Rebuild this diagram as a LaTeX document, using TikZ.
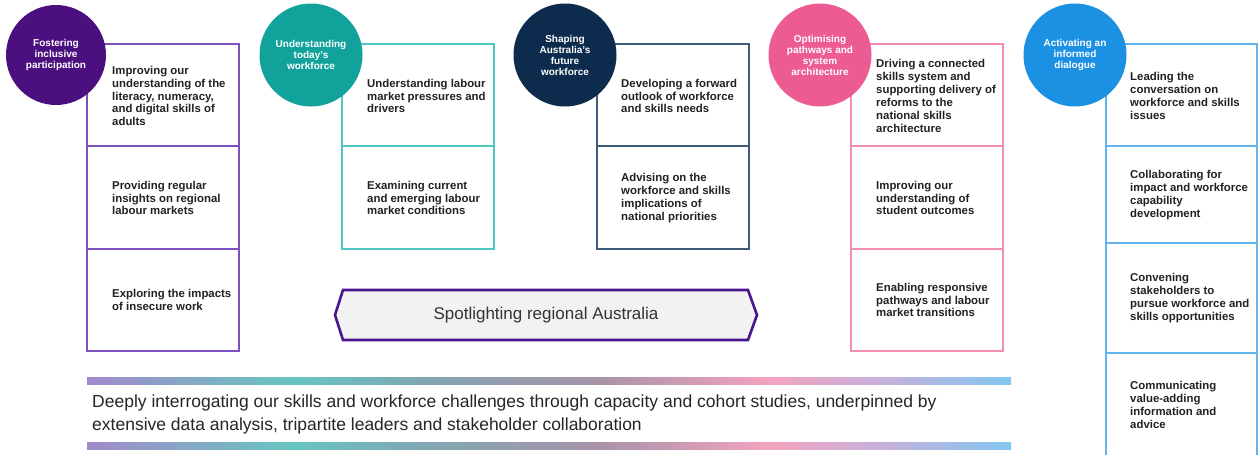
\documentclass[tikz,border=0pt]{standalone}
\usepackage{fontspec}
\setmainfont{Liberation Sans}
\definecolor{cPurple}{HTML}{4B0F80}
\definecolor{bPurple}{HTML}{7E4FBF}
\definecolor{cTeal}{HTML}{12A29C}
\definecolor{bTeal}{HTML}{4EC6C1}
\definecolor{cNavy}{HTML}{0D2B4C}
\definecolor{bNavy}{HTML}{3E5B7C}
\definecolor{cPink}{HTML}{EC5B92}
\definecolor{bPink}{HTML}{F48DB5}
\definecolor{cBlue}{HTML}{1C90E3}
\definecolor{bBlue}{HTML}{62B4EE}
\definecolor{txtdark}{HTML}{222222}
\definecolor{hexline}{HTML}{4B1390}
\definecolor{hexfill}{HTML}{F2F2F2}
\definecolor{gA}{HTML}{A28ACB}
\definecolor{gB}{HTML}{67C5C1}
\definecolor{gC}{HTML}{7FA8B3}
\definecolor{gD}{HTML}{A993A9}
\definecolor{gE}{HTML}{F3A3BF}
\definecolor{gF}{HTML}{C6B1DB}
\definecolor{gG}{HTML}{82C7F1}
\pgfdeclarehorizontalshading{barshade}{100bp}{color(0bp)=(gA); color(25bp)=(gA); color(36bp)=(gB); color(43bp)=(gC); color(52.75bp)=(gD); color(62bp)=(gE); color(68bp)=(gF); color(75bp)=(gG); color(100bp)=(gG)}
\begin{document}
\begin{tikzpicture}[x=1pt,y=-1pt,
  cell/.style={line width=1.4pt},
  celltxt/.style={anchor=west, align=left, inner sep=0pt, text=txtdark,
    font=\bfseries\fontsize{11.4}{12.9}\selectfont},
  disc/.style={circle, inner sep=0pt, minimum size=103pt, text=white, align=center,
    font=\bfseries\fontsize{10}{11}\selectfont},
  gbar/.style={shading=barshade, draw=none}
]
\clip (0,0) rectangle (1259,455);
\fill[white] (0,0) rectangle (1259,455);

% column 1
\draw[cell, draw=bPurple] (87,44) rectangle (239,146);
\draw[cell, draw=bPurple] (87,146) rectangle (239,249);
\draw[cell, draw=bPurple] (87,249) rectangle (239,351);
\node[celltxt] (t11) at (112,96) {Improving our\\understanding of the\\literacy, numeracy,\\and digital skills of\\adults};
\node[celltxt] (t12) at (112,198) {Providing regular\\insights on regional\\labour markets};
\node[celltxt] (t13) at (112,300) {Exploring the impacts\\of insecure work};

% column 2
\draw[cell, draw=bTeal] (342,44) rectangle (494,146);
\draw[cell, draw=bTeal] (342,146) rectangle (494,249);
\node[celltxt] (t21) at (367,96) {Understanding labour\\market pressures and\\drivers};
\node[celltxt] (t22) at (367,198) {Examining current\\and emerging labour\\market conditions};

% column 3
\draw[cell, draw=bNavy] (597,44) rectangle (749,146);
\draw[cell, draw=bNavy] (597,146) rectangle (749,249);
\node[celltxt] (t31) at (621,96) {Developing a forward\\outlook of workforce\\and skills needs};
\node[celltxt] (t32) at (621,198) {Advising on the\\workforce and skills\\implications of\\national priorities};

% column 4
\draw[cell, draw=bPink] (851,44) rectangle (1003,146);
\draw[cell, draw=bPink] (851,146) rectangle (1003,249);
\draw[cell, draw=bPink] (851,249) rectangle (1003,351);
\node[celltxt] (t41) at (876,96) {Driving a connected\\skills system and\\supporting delivery of\\reforms to the\\national skills\\architecture};
\node[celltxt] (t42) at (876,198) {Improving our\\understanding of\\student outcomes};
\node[celltxt] (t43) at (876,300) {Enabling responsive\\pathways and labour\\market transitions};

% column 5
\draw[cell, draw=bBlue] (1106,44) rectangle (1257,146);
\draw[cell, draw=bBlue] (1106,146) rectangle (1257,243);
\draw[cell, draw=bBlue] (1106,243) rectangle (1257,353);
\draw[cell, draw=bBlue] (1106,353) rectangle (1257,462);
\node[celltxt] (t51) at (1130,96) {Leading the\\conversation on\\workforce and skills\\issues};
\node[celltxt] (t52) at (1130,195) {Collaborating for\\impact and workforce\\capability\\development};
\node[celltxt] (t53) at (1130,298) {Convening\\stakeholders to\\pursue workforce and\\skills opportunities};
\node[celltxt] (t54) at (1130,405) {Communicating\\value-adding\\information and\\advice};

% circles
\node[disc, fill=cPurple, minimum size=100pt] (c1) at (56,55) {Fostering\\inclusive\\participation};
\node[disc, fill=cTeal] (c2) at (311,55) {Understanding\\today's\\workforce};
\node[disc, fill=cNavy] (c3) at (565,55) {Shaping\\Australia's\\future\\workforce};
\node[disc, fill=cPink] (c4) at (820,55) {Optimising\\pathways and\\system\\architecture};
\node[disc, fill=cBlue] (c5) at (1075,55) {Activating an\\informed\\dialogue};

% hexagon banner
\draw[line width=2.6pt, draw=hexline, fill=hexfill, line join=miter]
  (335,315) -- (343,290) -- (748,290) -- (757,315) -- (748,340) -- (343,340) -- cycle;
\node[inner sep=0pt, text=black!80, font=\fontsize{17}{20}\selectfont] (hex) at (546,315) {Spotlighting regional Australia};

% gradient bars and text
\path[gbar] (87,377) rectangle (1011,384);
\path[gbar] (87,442) rectangle (1011,449);
\node[anchor=north west, align=left, inner sep=0pt, text=black!85,
  font=\fontsize{17.5}{23}\selectfont] (deep) at (92,395)
  {Deeply interrogating our skills and workforce challenges through capacity and cohort studies, underpinned by\\extensive data analysis, tripartite leaders and stakeholder collaboration};
\end{tikzpicture}
\end{document}
